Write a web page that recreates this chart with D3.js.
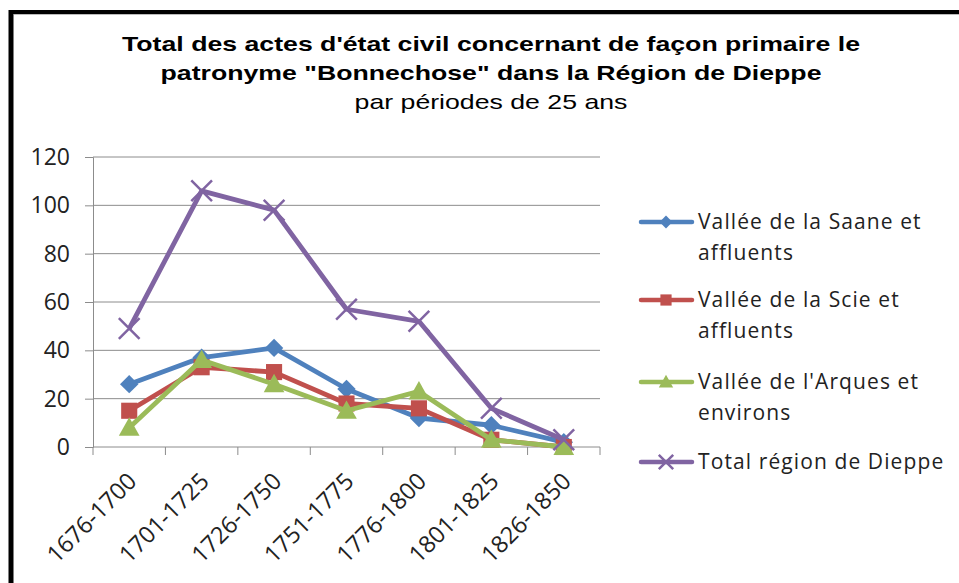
<!DOCTYPE html>
<html>
<head>
<meta charset="utf-8">
<script src="https://cdn.jsdelivr.net/npm/d3@7"></script>
<style>
  body { margin: 0; background: #fff; }
  svg { display: block; }
</style>
</head>
<body>
<svg id="chart" width="959" height="583"></svg>
<script>
// data
const periods = ['1676-1700', '1701-1725', '1726-1750', '1751-1775', '1776-1800', '1801-1825', '1826-1850'];
const saane = [26, 37, 41, 24, 12, 9, 2];
const scie = [15, 33, 31, 18, 16, 3, 0];
const arques = [8, 36, 26, 15, 23, 3, 0];
const total = [49, 106, 98, 57, 52, 16, 3];
const yTicks = [0, 20, 40, 60, 80, 100, 120];

const seriesList = [
    {name: ['Vallée de la Saane et', 'affluents'], values: saane, color: '#4F81BD', marker: 'diamond'},
    {name: ['Vallée de la Scie et', 'affluents'], values: scie, color: '#C0504D', marker: 'square'},
    {name: ["Vallée de l'Arques et", 'environs'], values: arques, color: '#9BBB59', marker: 'triangle'},
    {name: ['Total région de Dieppe'], values: total, color: '#8064A2', marker: 'cross'}
];

const svg = d3.select('#chart');
const titleFont = 'Liberation Sans, Arial, sans-serif';
const bodyFont = 'Open Sans, sans-serif';
const gridColor = '#8c8c8c';

// frame (only top and left edges are in the picture)
svg.append('line').attr('x1', 9).attr('x2', 959).attr('y1', 12).attr('y2', 12)
    .attr('stroke', '#000').attr('stroke-width', 4);
svg.append('line').attr('x1', 11).attr('x2', 11).attr('y1', 10).attr('y2', 583)
    .attr('stroke', '#000').attr('stroke-width', 5);
svg.append('line').attr('x1', 14).attr('x2', 959).attr('y1', 14.5).attr('y2', 14.5)
    .attr('stroke', '#bbb').attr('stroke-width', 1);

// titles (the original is stretched sideways)
const titleG = svg.append('g').attr('transform', 'translate(491,0) scale(1.27,1)');
titleG.append('text').attr('x', 0).attr('y', 51).attr('text-anchor', 'middle')
    .attr('font-family', titleFont).attr('font-size', 21).attr('font-weight', 'bold')
    .text("Total des actes d'état civil concernant de façon primaire le");
titleG.append('text').attr('x', 0).attr('y', 80).attr('text-anchor', 'middle')
    .attr('font-family', titleFont).attr('font-size', 21).attr('font-weight', 'bold')
    .text('patronyme "Bonnechose" dans la Région de Dieppe');
titleG.append('text').attr('x', 0).attr('y', 109).attr('text-anchor', 'middle')
    .attr('font-family', titleFont).attr('font-size', 21)
    .text('par périodes de 25 ans');

const x = d3.scaleBand().domain(periods).range([93, 600]).padding(0);
const y = d3.scaleLinear().domain([0, 120]).range([447, 157]);

// gridlines
svg.append('g').selectAll('line').data(yTicks).enter().append('line')
    .attr('x1', 93).attr('x2', 600)
    .attr('y1', d => y(d)).attr('y2', d => y(d))
    .attr('stroke', gridColor).attr('stroke-width', 1);

// y axis
const yAxis = svg.append('g').attr('transform', 'translate(93,0)')
    .call(d3.axisLeft(y).tickValues(yTicks).tickSize(8).tickPadding(15));
yAxis.select('.domain').attr('stroke', gridColor);
yAxis.selectAll('.tick line').attr('stroke', gridColor);
yAxis.selectAll('text').attr('font-family', bodyFont).attr('font-size', 23).attr('fill', '#222');

// x axis, ticks on the category edges
const xTickPos = periods.map(p => x(p)).concat([x.range()[1]]);
svg.append('g').selectAll('line').data(xTickPos).enter().append('line')
    .attr('x1', d => d).attr('x2', d => d).attr('y1', 447).attr('y2', 455)
    .attr('stroke', gridColor);
svg.append('g').selectAll('text').data(periods).enter().append('text')
    .attr('transform', d => 'translate(' + (x(d) + x.bandwidth() / 2 + 3) + ',477) rotate(-45)')
    .attr('text-anchor', 'end')
    .attr('dy', '0.35em')
    .attr('font-family', bodyFont).attr('font-size', 23.5).attr('fill', '#222')
    .text(d => d);

const cx = d => x(d) + x.bandwidth() / 2;

function drawMarker(g, type, color, k) {
    if (type === 'diamond') {
        g.append('path').attr('d', `M0,${-8 * k}L${8 * k},0L0,${8 * k}L${-8 * k},0Z`).attr('fill', color);
    } else if (type === 'square') {
        g.append('rect').attr('x', -7 * k).attr('y', -7 * k).attr('width', 14 * k).attr('height', 14 * k).attr('fill', color);
    } else if (type === 'triangle') {
        g.append('path').attr('d', `M0,${-9 * k}L${9 * k},${7 * k}L${-9 * k},${7 * k}Z`).attr('fill', color);
    } else {
        g.append('path').attr('d', `M${-9 * k},${-9 * k}L${9 * k},${9 * k}M${-9 * k},${9 * k}L${9 * k},${-9 * k}`)
            .attr('stroke', color).attr('stroke-width', 2.5);
    }
}

const line = d3.line().x((d, i) => cx(periods[i])).y(d => y(d));

seriesList.forEach(s => {
    svg.append('path').datum(s.values)
        .attr('d', line)
        .attr('fill', 'none')
        .attr('stroke', s.color)
        .attr('stroke-width', 4.8)
        .attr('stroke-linejoin', 'round');
    s.values.forEach((v, i) => {
        const g = svg.append('g').attr('transform', 'translate(' + cx(periods[i]) + ',' + y(v) + ')');
        drawMarker(g, s.marker, s.color, 1.15);
    });
});

// legend
const legendY = [222, 300, 382, 462];
seriesList.forEach((s, i) => {
    const g = svg.append('g').attr('transform', 'translate(0,' + legendY[i] + ')');
    g.append('line').attr('x1', 641).attr('x2', 692).attr('y1', 0).attr('y2', 0)
        .attr('stroke', s.color).attr('stroke-width', 4.5).attr('stroke-linecap', 'round');
    const mg = g.append('g').attr('transform', 'translate(666,0)');
    drawMarker(mg, s.marker, s.color, 0.8);
    s.name.forEach((t, j) => {
        g.append('text').attr('x', 698).attr('y', j * 31).attr('dy', '0.35em')
            .attr('font-family', bodyFont).attr('font-size', 21).attr('letter-spacing', 1.1).attr('fill', '#222')
            .text(t);
    });
});
</script>
</body>
</html>
